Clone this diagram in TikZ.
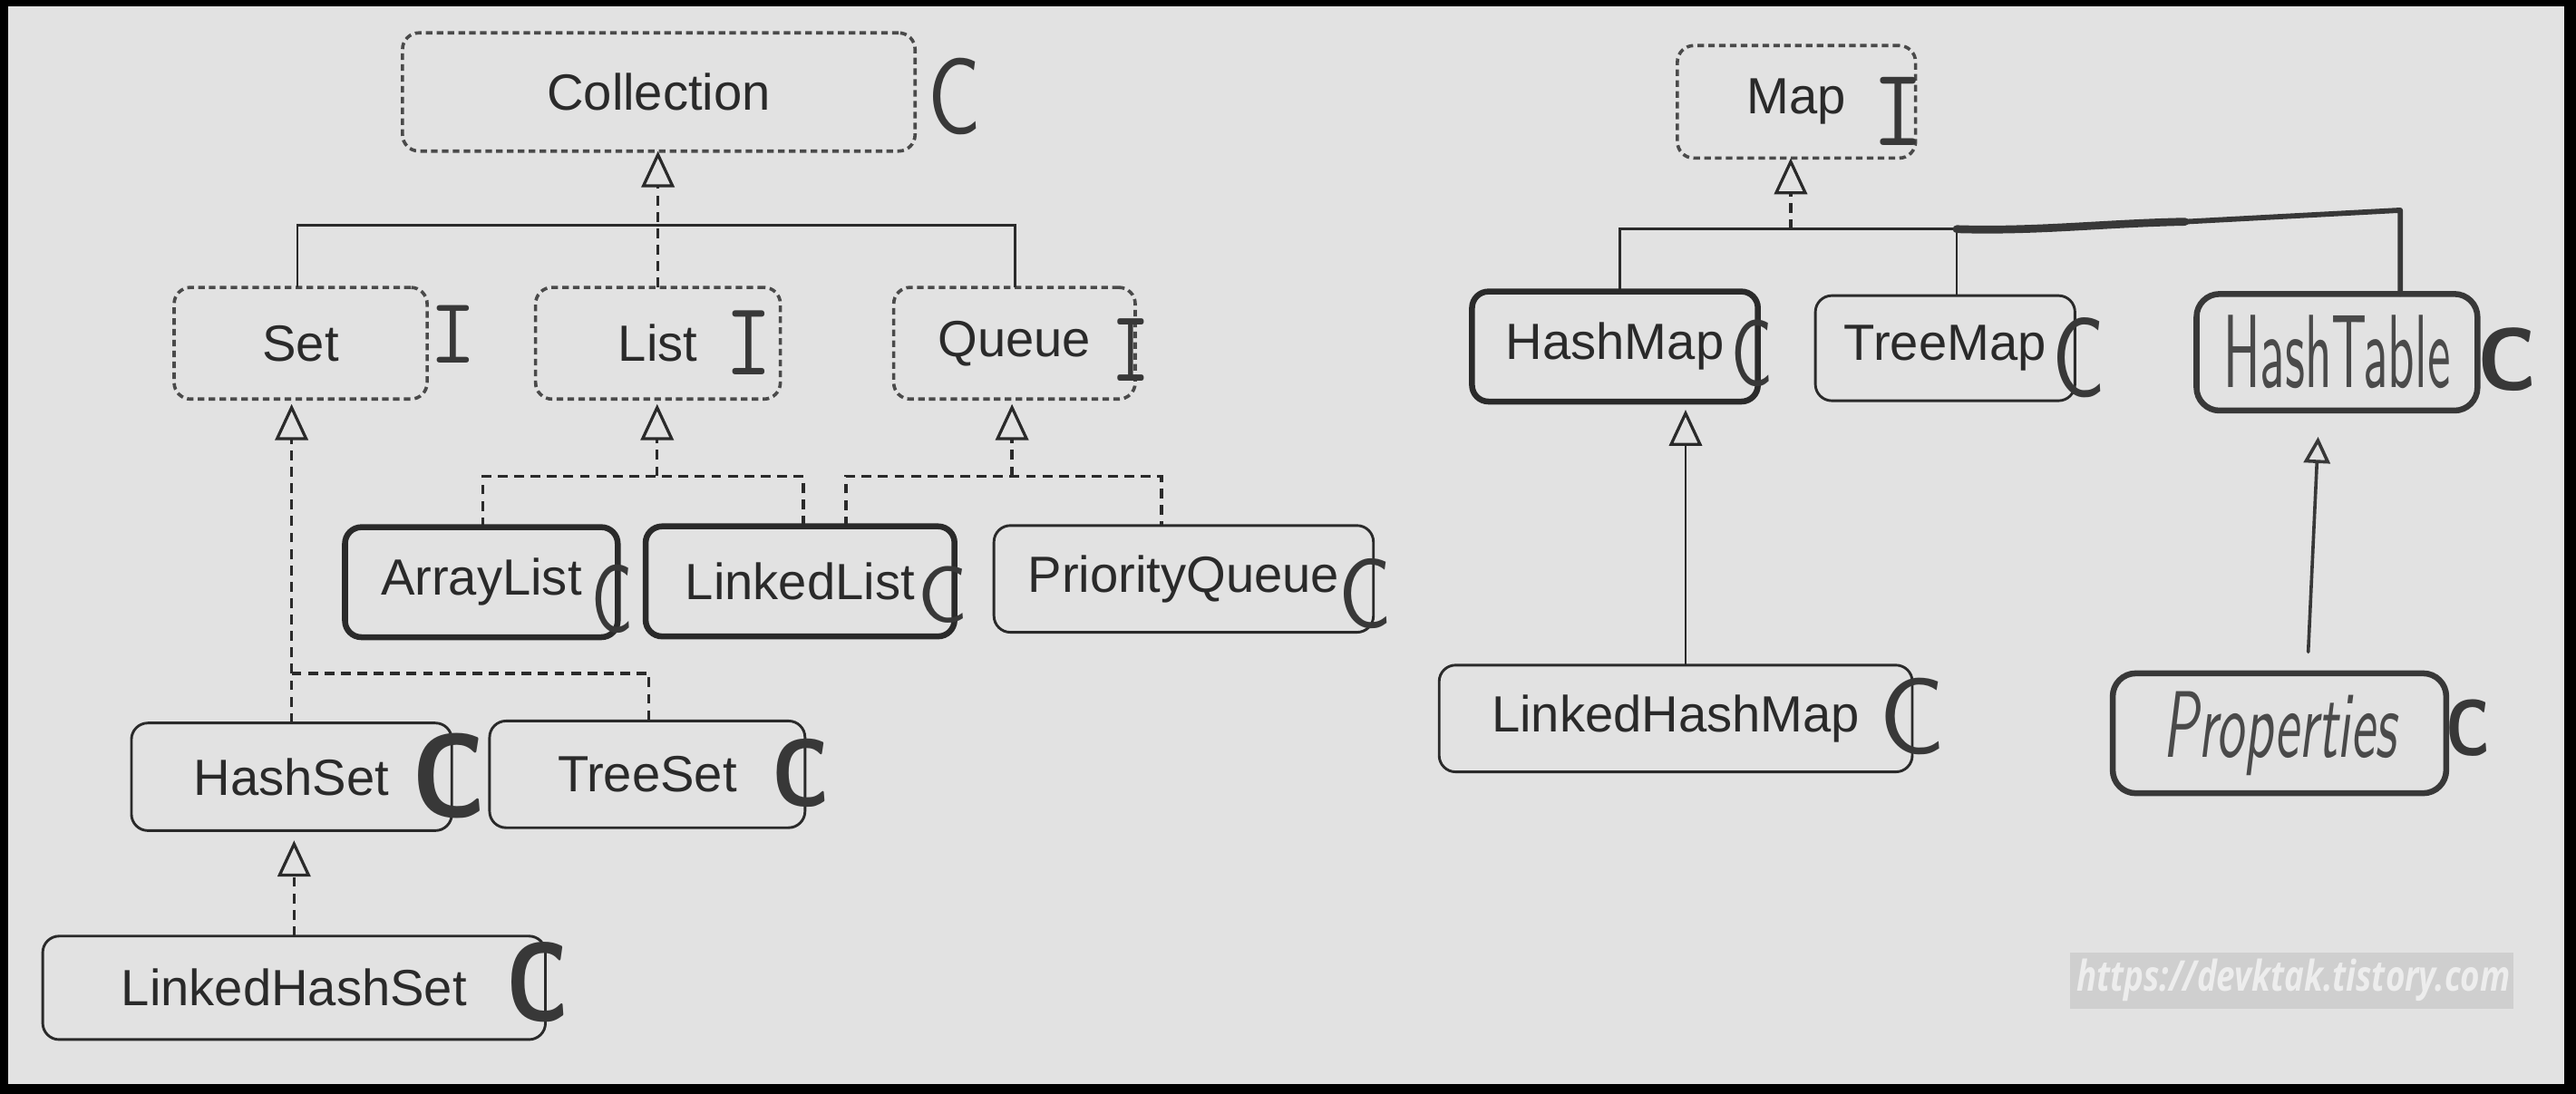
\documentclass[tikz,border=0pt]{standalone}
\usepackage{fontspec}
\usetikzlibrary{arrows.meta}
\newfontfamily\helv{Liberation Sans}
\newfontfamily\wmfont{Open Sans}
\definecolor{page}{HTML}{E2E2E2}
\definecolor{ink}{HTML}{2A2A2A}
\definecolor{pen}{HTML}{383838}
\definecolor{penlt}{HTML}{4A4A4A}
\definecolor{wmbg}{HTML}{CFCFCF}
\definecolor{wmtext}{HTML}{EDEDED}
\tikzset{
  boxbase/.style={inner sep=0pt, outer sep=0pt, rounded corners=5pt, text=ink,
    font=\helv\fontsize{15.5}{18}\selectfont},
  iface/.style={boxbase, draw=ink!85, line width=1pt, dash pattern=on 2pt off 1.3pt},
  cls/.style={boxbase, draw=ink, line width=0.8pt},
  clsb/.style={boxbase, draw=ink, line width=1.8pt},
  handbox/.style={inner sep=0pt, outer sep=0pt, draw=pen, line width=1.8pt, rounded corners=7pt, text=penlt},
  dashline/.style={draw=ink, line width=0.9pt, dash pattern=on 3pt off 2pt},
  conn/.style={draw=ink, line width=0.8pt},
  handline/.style={draw=pen, line width=1.3pt, line cap=round, line join=round},
  tri/.style={-{Triangle[open,length=11pt,width=10pt,line width=0.9pt]}},
  hw/.style={inner sep=0pt, outer sep=0pt, text=pen},
}
\begin{document}
\begin{tikzpicture}[x=0.5pt,y=-0.5pt]
\useasboundingbox (0,0) rectangle (1568,666);
\fill[black] (0,0) rectangle (1568,666);
\fill[page] (5,4) rectangle (1561,660);

% ---------- Collection side ----------
\node[iface, minimum width=156pt, minimum height=36pt] (coll) at (401,56) {Collection};
\node[iface, minimum width=77pt, minimum height=34pt] (set) at (183,209) {Set};
\node[iface, minimum width=74.5pt, minimum height=34pt] (list) at (400.5,209) {List};
\node[iface, minimum width=73.5pt, minimum height=34pt] (queue) at (617.5,209) {Queue};
\node[clsb, minimum width=83pt, minimum height=33.5pt] (al) at (293,354.5) {ArrayList};
\node[clsb, minimum width=94pt, minimum height=33.5pt] (ll) at (487,354) {LinkedList};
\node[cls, minimum width=115.5pt, minimum height=32.5pt] (pq) at (720.5,352.5) {PriorityQueue};
\node[cls, minimum width=97.5pt, minimum height=32.75pt] (hs) at (177.5,473) {HashSet};
\node[cls, minimum width=96pt, minimum height=32.5pt] (ts) at (394,471.5) {TreeSet};
\node[cls, minimum width=153pt, minimum height=31.5pt] (lhs) at (179,601.5) {LinkedHashSet};

% connectors
\coordinate (jl) at (181,137);
\coordinate (jr) at (618,137);
\draw[dashline, tri] (list.north) -- (list.north |- coll.south);
\draw[conn] (set.north -| jl) -- (jl) -- (jr) -- (queue.north -| jr);

\draw[dashline, tri, shorten >=1.5pt] (hs.north) -- (hs.north |- set.south);
\coordinate (tsj) at (395,410);
\draw[dashline] (hs.north |- tsj) -- (tsj) -- (ts.north -| tsj);

\coordinate (lj) at (400,290);
\coordinate (lj1) at (294,290);
\coordinate (lj2) at (489,290);
\draw[dashline, tri, shorten >=1.5pt] (lj) -- (lj |- list.south);
\draw[dashline] (al.north -| lj1) -- (lj1) -- (lj2) -- (ll.north -| lj2);

\coordinate (qj) at (616,290);
\coordinate (qj1) at (515,290);
\coordinate (qj2) at (707,290);
\draw[dashline, tri, shorten >=1.5pt] (qj) -- (qj |- queue.south);
\draw[dashline] (ll.north -| qj1) -- (qj1) -- (qj2) -- (pq.north -| qj2);

\draw[dashline, tri, shorten >=3pt] (lhs.north) -- (lhs.north |- hs.south);

% ---------- Map side ----------
\node[iface, minimum width=72.5pt, minimum height=34.25pt] (map) at (1093.5,62) {Map};
\node[clsb, minimum width=87pt, minimum height=33.5pt] (hm) at (983,211) {HashMap};
\node[cls, minimum width=79pt, minimum height=32pt] (tm) at (1184,212) {TreeMap};
\node[handbox, minimum width=85.5pt, minimum height=35.5pt] (ht) at (1422.5,214.5)
  {\resizebox{69pt}{22pt}{\sffamily HashTable}};
\node[cls, minimum width=144pt, minimum height=32.5pt] (lhm) at (1020,437.5) {LinkedHashMap};
\node[handbox, minimum width=101.5pt, minimum height=36.5pt] (prop) at (1387.5,446.5)
  {\resizebox{71pt}{20pt}{\sffamily\itshape Properties}};

\coordinate (mj) at (1090,139.5);
\coordinate (mj1) at (986,139.5);
\coordinate (mj2) at (1191,139.5);
\coordinate (hj) at (1461,128);
\draw[dashline, tri] (mj) -- (mj |- map.south);
\draw[conn] (hm.north -| mj1) -- (mj1) -- (mj2) -- (tm.north -| mj2);
\draw[handline, line width=2.4pt] (mj2) .. controls (1240,141) and (1280,136) .. (1330,135);
\draw[handline, line width=1.6pt] (1330,135) -- (hj) -- (ht.north -| hj);

\coordinate (hmx) at (1026,0);
\draw[conn, tri, shorten >=2.5pt] (lhm.north -| hmx) -- (hmx |- hm.south);

\coordinate (pa) at (1405,397);
\coordinate (pb) at (1411,266);
\draw[handline, line width=1pt, -{Triangle[open,length=8pt,width=8pt,line width=1pt]}] (pa) -- (pb);

% ---------- handwritten marks ----------
\node[hw] (cColl) at (581,59) {\resizebox{16pt}{23pt}{\sffamily C}};
\node[hw] (cAl) at (372.5,364.5) {\resizebox{12.5pt}{20.5pt}{\sffamily C}};
\node[hw] (cLl) at (574,362) {\resizebox{15pt}{17pt}{\sffamily C}};
\node[hw] (cPq) at (831,361.5) {\resizebox{16pt}{21pt}{\sffamily C}};
\node[hw] (cHs) at (273.5,472.5) {\resizebox{22.5pt}{25.5pt}{\sffamily\bfseries C}};
\node[hw] (cTs) at (487.5,470.5) {\resizebox{17.5pt}{20.5pt}{\sffamily\bfseries C}};
\node[hw] (cLhs) at (327,598) {\resizebox{19pt}{24pt}{\sffamily\bfseries C}};
\node[hw] (cHm) at (1066.5,215) {\resizebox{12.5pt}{20pt}{\sffamily C}};
\node[hw] (cTm) at (1265,218) {\resizebox{16pt}{24pt}{\sffamily C}};
\node[hw] (cHt) at (1526,219) {\resizebox{18pt}{19pt}{\sffamily\bfseries C}};
\node[hw] (cLhm) at (1164,436) {\resizebox{20pt}{23pt}{\sffamily C}};
\node[hw] (cPr) at (1502.5,443) {\resizebox{13.5pt}{17pt}{\sffamily\bfseries C}};

\node[hw] (iSet) at (276,203.5) {\resizebox{14pt}{17.5pt}{\ttfamily I}};
\node[hw] (iList) at (456,208.5) {\resizebox{14pt}{19.5pt}{\ttfamily I}};
\node[hw] (iQueue) at (688.5,213) {\resizebox{11.5pt}{19pt}{\ttfamily I}};
\node[hw] (iMap) at (1155.5,68) {\resizebox{15.5pt}{20.75pt}{\ttfamily I}};

% ---------- watermark ----------
\fill[wmbg] (1260,580) rectangle (1530,614);
\node[inner sep=0pt, text=wmtext] (wm) at (1396,597)
  {\resizebox{132pt}{9.8pt}{\wmfont\bfseries\itshape https://devktak.tistory.com}};
\end{tikzpicture}
\end{document}
